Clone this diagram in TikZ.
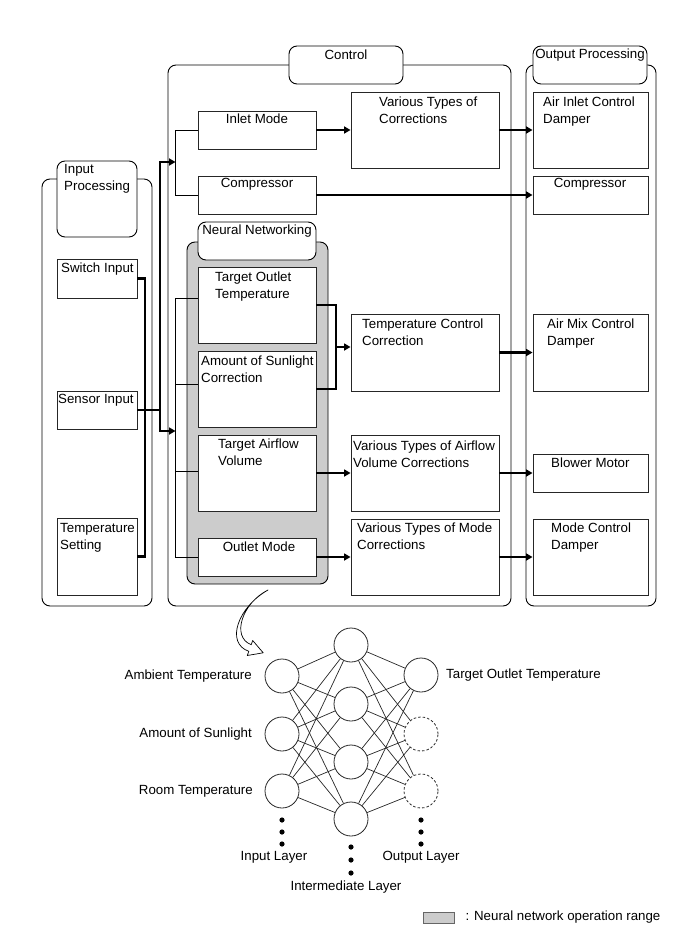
\documentclass[tikz,border=0pt]{standalone}
\usepackage{fontspec}
\setmainfont{Liberation Sans}
\usetikzlibrary{arrows.meta,fit,calc}
\begin{document}
\begin{tikzpicture}[x=1pt,y=-1pt,
  font=\fontsize{13.3}{17}\selectfont,
  box/.style={draw=black!85, line width=0.9pt, fill=white, inner sep=0pt},
  frame/.style={draw=black, line width=0.9pt, rounded corners=8pt, inner sep=0pt},
  hdr/.style={draw=black, line width=0.9pt, rounded corners=8pt, fill=white, inner sep=0pt},
  grayfr/.style={draw=black, line width=0.9pt, rounded corners=8pt, fill=black!20, inner sep=0pt},
  txt/.style={inner sep=0pt},
  lbl/.style={inner sep=0pt, align=left, anchor=north west},
  thk/.style={line width=2.2pt, black},
  arr/.style={line width=2.2pt, black, -{Triangle[length=6.5pt,width=7pt]}},
  thn/.style={line width=0.8pt, black},
  neuron/.style={circle, draw=black!85, line width=0.8pt, minimum size=34pt, inner sep=0pt, fill=white},
  dneuron/.style={neuron, dashed, dash pattern=on 2.5pt off 2pt},
  nnl/.style={line width=0.7pt, black!85}
]
\useasboundingbox (0,0) rectangle (691,952);

% frames
\node[frame, fit={(42,179)(152,606)}] (inframe) {};
\node[frame, fit={(168,65)(511,606)}] (ctlframe) {};
\node[frame, fit={(526,65)(656,606)}] (outframe) {};

% headers
\node[hdr, fit={(57,161)(137,237)}] (inhdr) {};
\node[lbl] (inhdrt) at (64,164) {Input\\Processing};
\node[hdr, fit={(289,46)(403,84)}] (ctlhdr) {};
\node[txt] (ctlhdrt) at (346,55) {Control};
\node[hdr, fit={(533,46)(647,84)}] (outhdr) {};
\node[txt] (outhdrt) at (590,55) {Output Processing};

% neural networking range
\node[grayfr, fit={(187,242)(328,584)}] (nnbox) {};
\node[hdr, fit={(198,222)(316,260)}] (nnhdr) {};
\node[txt] (nnhdrt) at (257,231) {Neural Networking};

% input boxes
\node[box, fit={(57,259)(137,298)}] (sw) {};
\node[txt, anchor=west] (swt) at (61,269) {Switch Input};
\node[box, fit={(57,391)(137,429)}] (sen) {};
\node[txt, anchor=west] (sent) at (58,400) {Sensor Input};
\node[box, fit={(57,518)(137,595)}] (ts) {};
\node[lbl] (tst) at (60,523) {Temperature\\Setting};

% control boxes
\node[box, fit={(198,111)(316,149)}] (inlet) {};
\node[txt] (inlett) at (257,119) {Inlet Mode};
\node[box, fit={(198,176)(316,214)}] (comp) {};
\node[txt] (compt) at (257,184) {Compressor};
\node[box, fit={(198,267)(316,343)}] (tot) {};
\node[lbl] (tott) at (215,272) {Target Outlet\\Temperature};
\node[box, fit={(198,351)(316,427)}] (asc) {};
\node[lbl] (asct) at (201,356) {Amount of Sunlight\\Correction};
\node[box, fit={(198,435)(316,511)}] (tav) {};
\node[lbl] (tavt) at (218,439) {Target Airflow\\Volume};
\node[box, fit={(198,538)(316,576)}] (om) {};
\node[txt] (omt) at (259,547) {Outlet Mode};

% corrections
\node[box, fit={(351,92)(499,168)}] (vtc) {};
\node[lbl] (vtct) at (379,97) {Various Types of\\Corrections};
\node[box, fit={(351,314)(499,391)}] (tcc) {};
\node[lbl] (tcct) at (362,319) {Temperature Control\\Correction};
\node[box, fit={(351,435)(499,511)}] (vtav) {};
\node[lbl] (vtavt) at (353,441) {Various Types of Airflow\\Volume Corrections};
\node[box, fit={(351,519)(499,595)}] (vtm) {};
\node[lbl] (vtmt) at (357,523) {Various Types of Mode\\Corrections};

% outputs
\node[box, fit={(533,92)(648,168)}] (aicd) {};
\node[lbl] (aicdt) at (543,97) {Air Inlet Control\\Damper};
\node[box, fit={(533,176)(648,214)}] (ocomp) {};
\node[txt] (ocompt) at (590,184) {Compressor};
\node[box, fit={(533,314)(648,391)}] (amcd) {};
\node[lbl] (amcdt) at (547,319) {Air Mix Control\\Damper};
\node[box, fit={(533,454)(648,492)}] (bm) {};
\node[txt, anchor=west] (bmt) at (551,463) {Blower Motor};
\node[box, fit={(533,519)(648,595)}] (mcd) {};
\node[lbl] (mcdt) at (551,523) {Mode Control\\Damper};

% input connectors
\coordinate (ja) at (145,410);
\coordinate (jb) at (160,410);
\coordinate (ta) at (175.5,162);
\coordinate (tb) at (175.5,431);
\draw[thk] (sw.east) -| (ja) |- (ts.east);
\draw[thk] (sen.east) -- (jb);
\draw[arr] (jb) |- (ta);
\draw[arr] (jb) |- (tb);

% distribution lines
\draw[thn] (inlet.west) -| (ta) |- (comp.west);
\coordinate (l1) at (175.5,298);
\coordinate (l2) at (175.5,384);
\coordinate (l3) at (175.5,471);
\coordinate (l4) at (175.5,557);
\draw[thn] (l1 -| tot.west) -- (l1) -- (l4) -- (om.west);
\draw[thn] (l2) -- (l2 -| asc.west);
\draw[thn] (l3) -- (l3 -| tav.west);

% control outputs
\coordinate (br) at (336,347);
\draw[thk] (tot.east) -| (br) |- (asc.east);
\draw[arr] (br) -- (br -| tcc.west);
\draw[arr] (inlet.east) -- (vtc.west);
\draw[arr] (comp.east) -- (ocomp.west);
\draw[arr] (vtc.east) -- (aicd.west);
\draw[arr] (tcc.east) -- (amcd.west);
\draw[arr] (tav.east) -- (vtav.west);
\draw[arr] (vtav.east) -- (bm.west);
\draw[arr] (om.east) -- (vtm.west);
\draw[arr] (vtm.east) -- (mcd.west);

% curved hollow arrow
\draw[line width=0.7pt, fill=white, line join=round]
  (268,590) .. controls (238,607) and (225,643) .. (248.8,651.3)
  -- (247.3,655.5) -- (263.2,652.8) -- (252.7,640.5) -- (251.2,644.7)
  .. controls (231,637) and (242,603) .. (268,590) -- cycle;

% neural network
\node[neuron] (i1) at (282,676) {};
\node[neuron] (i2) at (282,734) {};
\node[neuron] (i3) at (282,791) {};
\node[neuron] (h1) at (351,645) {};
\node[neuron] (h2) at (351,704) {};
\node[neuron] (h3) at (351,762) {};
\node[neuron] (h4) at (351,819) {};
\node[neuron] (o1) at (421,675) {};
\node[dneuron] (o2) at (421,734) {};
\node[dneuron] (o3) at (421,791) {};
\foreach \a in {1,2,3} \foreach \b in {1,2,3,4} \draw[nnl] (i\a) -- (h\b);
\foreach \b in {1,2,3,4} \foreach \c in {1,2,3} \draw[nnl] (h\b) -- (o\c);
\foreach \y in {820,832,844} {\fill (282,\y) circle (2.6); \fill (421,\y) circle (2.6);}
\foreach \y in {847,860,873} \fill (351,\y) circle (2.6);

\node[txt, anchor=east] (lamb) at (252,676) {Ambient Temperature};
\node[txt, anchor=east] (lsun) at (252,734) {Amount of Sunlight};
\node[txt, anchor=east] (lroom) at (253,791) {Room Temperature};
\node[txt, anchor=west] (ltot) at (446,675) {Target Outlet Temperature};
\node[txt] (lin) at (274,857) {Input Layer};
\node[txt] (lout) at (421,857) {Output Layer};
\node[txt] (lmid) at (346,887) {Intermediate Layer};

% legend
\node[draw=black!60, line width=0.6pt, fill=black!20, inner sep=0pt, fit={(423,912)(454,923)}] (leg) {};
\node[txt, anchor=west] (legt) at ($(leg.east)+(11,0)$) {: Neural network operation range};
\end{tikzpicture}
\end{document}
